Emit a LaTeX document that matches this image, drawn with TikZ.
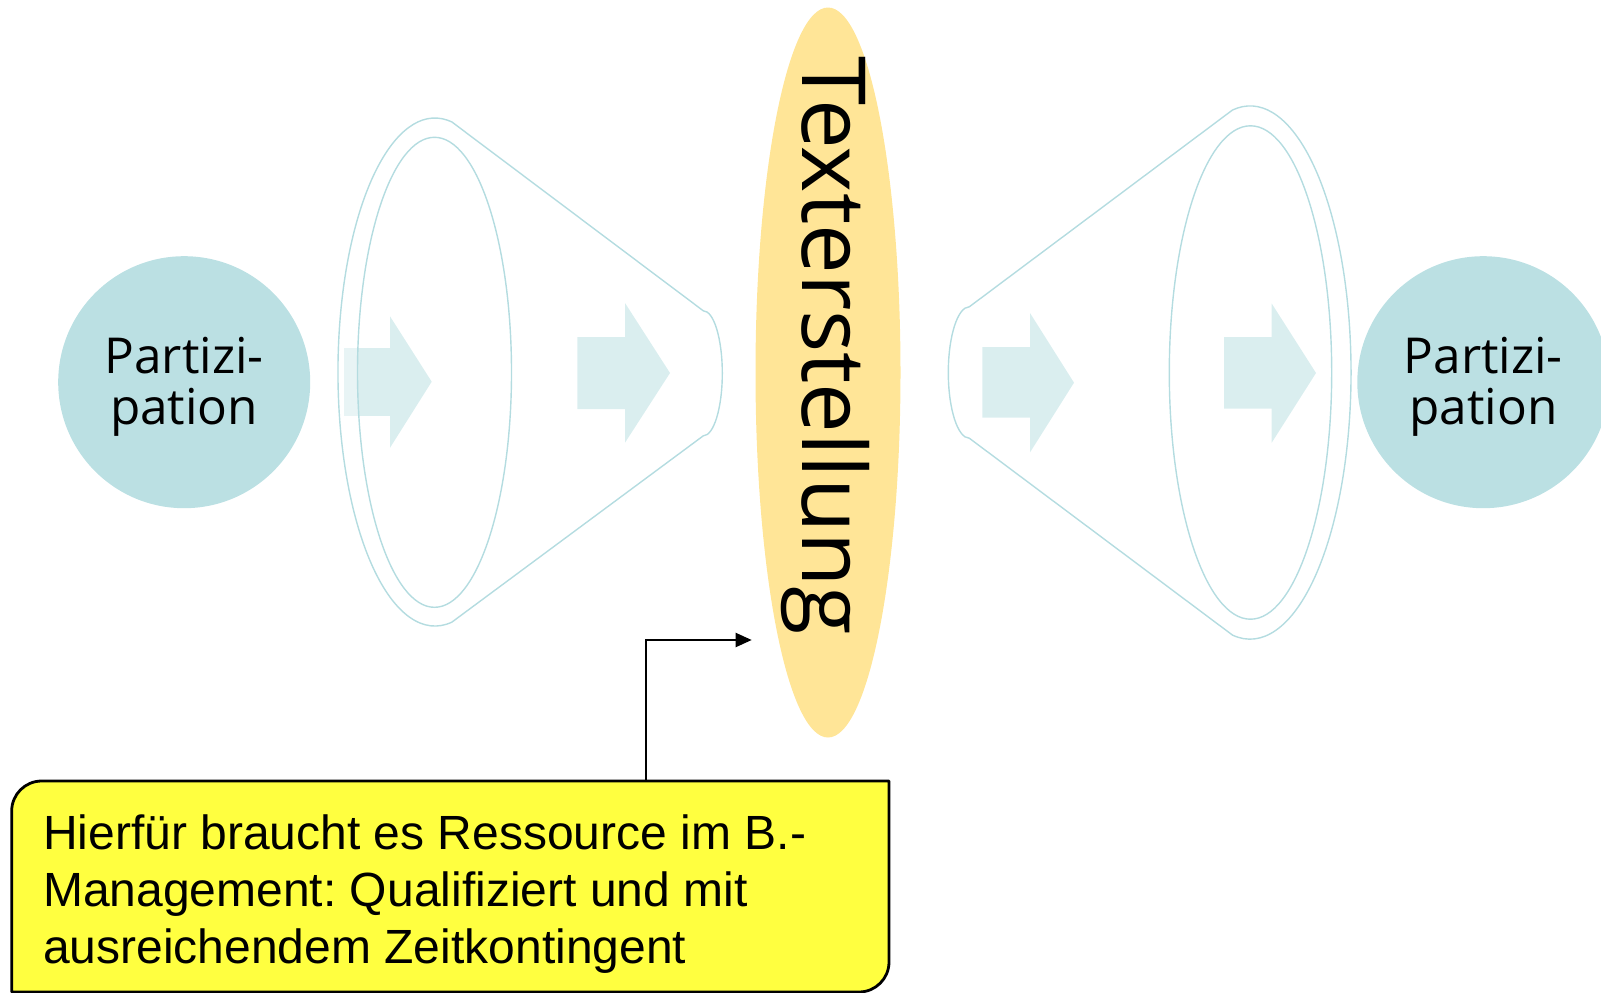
\documentclass[tikz,border=0pt]{standalone}
\usepackage{fontspec}
\setmainfont{Open Sans}
\newfontfamily\notefont{Liberation Sans}
\usetikzlibrary{shapes.geometric,arrows.meta}
\definecolor{partfill}{HTML}{BBE0E3}
\definecolor{funnelline}{HTML}{B4DCE0}
\definecolor{flowfill}{HTML}{DAEEEF}
\definecolor{textfill}{HTML}{FFE597}
\definecolor{notefill}{HTML}{FFFF40}
\frenchspacing
\begin{document}
\begin{tikzpicture}[x=1pt,y=1pt,
    partnode/.style={circle,fill=partfill,minimum size=252pt,inner sep=0pt,align=center,
                     text height=96.2pt,text depth=12pt,font=\fontsize{49.5}{51}\selectfont},
    funnel/.style={draw=funnelline,line width=1.4pt},
    flow/.style={fill=flowfill},
    notebox/.style={draw=black,fill=notefill,line width=2.8pt,line join=round}]
  \useasboundingbox (0,0) rectangle (1601,-993);

  % Partizipation, left and right
  \node[partnode] (partl) at (184.2,-382.2) {Partizi-\\pation};
  \node[partnode] (partr) at (1483.3,-382.2) {Partizi-\\pation};

  % arrows in the funnels
  \fill[flow] (344,-348) -- (390,-348) -- (390,-316.3) -- (431.7,-381.7) -- (390,-447.8) -- (390,-415.8) -- (344,-415.8) -- cycle;
  \fill[flow] (577.3,-337) -- (625,-337) -- (625,-303) -- (670,-373) -- (625,-442.7) -- (625,-409) -- (577.3,-409) -- cycle;
  \fill[flow] (982.3,-347) -- (1030,-347) -- (1030,-313) -- (1074,-382.7) -- (1030,-452.4) -- (1030,-417.7) -- (982.3,-417.7) -- cycle;
  \fill[flow] (1224,-337) -- (1271.7,-337) -- (1271.7,-303.5) -- (1316,-373) -- (1271.7,-442.7) -- (1271.7,-408.5) -- (1224,-408.5) -- cycle;

  % left funnel: opens to the left
  \fill[white,opacity=0.4,even odd rule] (435,-372) ellipse[x radius=97pt,y radius=254pt]
    (434.5,-372.3) ellipse[x radius=77pt,y radius=235pt];
  \draw[funnel] (451.8,-121.9) arc[start angle=80,end angle=280,x radius=97pt,y radius=254pt]
    -- (703.3,-435.8) arc[start angle=-90,end angle=90,x radius=19pt,y radius=62.5pt] -- cycle;
  \draw[funnel] (434.5,-372.3) ellipse[x radius=77pt,y radius=235pt];

  % right funnel: opens to the right
  \draw[funnel] (969.3,-306.8) -- (1232.5,-110.0)
    arc[start angle=100,end angle=-100,x radius=101pt,y radius=266.6pt]
    -- (969.3,-438.2) arc[start angle=270,end angle=90,x radius=21pt,y radius=65.7pt] -- cycle;
  \draw[funnel] (1250.5,-372.5) ellipse[x radius=81.2pt,y radius=246.7pt];

  % Texterstellung
  \node[ellipse,fill=textfill,minimum width=145pt,minimum height=730pt,inner sep=0pt] (textbody) at (828,-372.5) {};
  \node[rotate=-90,anchor=base west,inner sep=0pt,font=\fontsize{88.5}{88.5}\selectfont] (textlabel) at (802,-56) {Texterstellung};

  % callout
  \draw[notebox] (889,-781) -- (889,-962) arc[start angle=0,end angle=-90,radius=30pt]
    -- (11.7,-992) -- (11.7,-811) arc[start angle=180,end angle=90,radius=30pt] -- cycle;
  \node[anchor=base west,align=left,inner sep=0pt,font=\notefont\fontsize{48}{57}\selectfont] (note) at (43,-963)
    {Hierfür braucht es Ressource im B.-\\Management: Qualifiziert und mit\\ausreichendem Zeitkontingent};

  % pointer from the callout to the ellipse
  \coordinate (noteport) at (646,-781);
  \coordinate (textport) at (751.7,-640);
  \draw[line width=2pt,-{Triangle[length=16pt,width=14pt]}] (noteport) |- (textport);
\end{tikzpicture}
\end{document}
